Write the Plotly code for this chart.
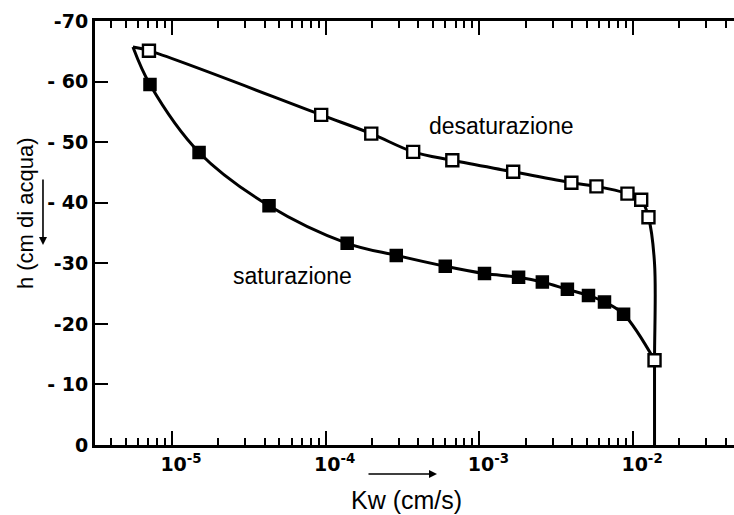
import numpy as np
import plotly.graph_objects as go

# ---- data ----
sat_k = [7.19e-6, 1.50e-5, 4.28e-5, 1.38e-4, 2.88e-4, 6.0e-4, 1.08e-3, 1.80e-3,
         2.57e-3, 3.74e-3, 5.13e-3, 6.52e-3, 8.68e-3]
sat_h = [-59.5, -48.3, -39.5, -33.3, -31.3, -29.5, -28.3, -27.7,
         -26.9, -25.7, -24.7, -23.6, -21.6]

desat_k = [7.08e-6, 9.35e-5, 1.98e-4, 3.71e-4, 6.67e-4, 1.66e-3, 3.97e-3, 5.78e-3,
           9.20e-3, 1.13e-2, 1.26e-2, 1.38e-2]
desat_h = [-65.1, -54.5, -51.4, -48.4, -47.0, -45.1, -43.3, -42.7,
           -41.5, -40.5, -37.6, -14.0]

tip_k, tip_h = 5.57e-6, -65.7          # common start of both curves
vert_k = 1.38e-2                        # vertical branch
vert_h = [-30.0, -14.0, 0.0]

y_tickvals = [0, -10, -20, -30, -40, -50, -60, -70]
y_ticktext = ["0", "- 10", "-20", "-30", "- 40", "- 50", "- 60", "-70"]
x_tickvals = [1e-5, 1e-4, 1e-3, 1e-2]
x_ticktext = ["10<sup>-5</sup>", "10<sup>-4</sup>", "10<sup>-3</sup>", "10<sup>-2</sup>"]
x_minor = [m * 10.0 ** e for e in range(-6, -1) for m in range(2, 10)]

# curve paths
sat_curve_k = [tip_k] + sat_k + [vert_k]
sat_curve_h = [tip_h] + sat_h + [desat_h[-1]]
desat_curve_k = [tip_k] + desat_k[:-1] + [vert_k] * len(vert_h)
desat_curve_h = [tip_h] + desat_h[:-1] + vert_h

fig = go.Figure()
line = dict(color="black", width=3, shape="spline", smoothing=1)
fig.add_trace(go.Scatter(x=sat_curve_k, y=sat_curve_h, mode="lines", line=line,
                         hoverinfo="skip", showlegend=False))
fig.add_trace(go.Scatter(x=desat_curve_k, y=desat_curve_h, mode="lines", line=line,
                         hoverinfo="skip", showlegend=False))
fig.add_trace(go.Scatter(x=sat_k, y=sat_h, mode="markers", name="saturazione",
                         marker=dict(symbol="square", size=12, color="black",
                                     line=dict(color="black", width=1.5)),
                         showlegend=False))
fig.add_trace(go.Scatter(x=desat_k, y=desat_h, mode="markers", name="desaturazione",
                         marker=dict(symbol="square", size=12, color="white",
                                     line=dict(color="black", width=2.4)),
                         showlegend=False))

ytickfont = dict(family="DejaVu Sans", size=19, color="black", weight="bold")
xtickfont = dict(family="DejaVu Sans", size=19, color="black", weight="bold")
fig.update_layout(
    width=734, height=515,
    margin=dict(l=95, r=0, t=21, b=70),
    paper_bgcolor="white", plot_bgcolor="white",
    xaxis=dict(type="log", range=[-5.501, -1.343],
               showline=True, linecolor="black", linewidth=3,
               mirror="allticks", showgrid=False, zeroline=False,
               ticks="inside", ticklen=14, tickwidth=2, tickcolor="black",
               tickmode="array", tickvals=x_tickvals, ticktext=x_ticktext,
               tickfont=xtickfont, ticklabelshift=9,
               minor=dict(tickmode="array", tickvals=x_minor, ticks="inside",
                          ticklen=7, tickwidth=2, tickcolor="black", showgrid=False)),
    yaxis=dict(range=[0, -70], showline=True, linecolor="black", linewidth=3,
               mirror=False, showgrid=False, zeroline=False,
               ticks="inside", ticklen=13, tickwidth=2, tickcolor="black",
               tickmode="array", tickvals=y_tickvals, ticktext=y_ticktext,
               tickfont=ytickfont),
    yaxis2=dict(range=[0, -70], overlaying="y", side="right", anchor="x",
                showline=False, showgrid=False, zeroline=False,
                ticks="inside", ticklen=5, tickwidth=2, tickcolor="black",
                tickmode="array", tickvals=y_tickvals[1:-1], showticklabels=False),
)

txt = dict(family="Liberation Sans, Arial, sans-serif", color="black")
fig.add_annotation(x=np.log10(1.40e-3), y=-52.7, xref="x", yref="y",
                   xanchor="center", yanchor="middle",
                   text="desaturazione", showarrow=False, font=dict(size=23, **txt))
fig.add_annotation(x=np.log10(6.04e-5), y=-27.9, xref="x", yref="y",
                   xanchor="center", yanchor="middle",
                   text="saturazione", showarrow=False, font=dict(size=23, **txt))
fig.add_annotation(x=-0.1095, y=0.547, xref="paper", yref="paper",
                   xanchor="center", yanchor="middle",
                   text="h (cm di acqua)", textangle=-90, showarrow=False,
                   font=dict(size=22, **txt))
fig.add_annotation(x=0.4875, y=-0.1297, xref="paper", yref="paper",
                   xanchor="center", yanchor="middle",
                   text="Kw (cm/s)", showarrow=False, font=dict(size=25, **txt))
# direction arrows
fig.add_annotation(x=-0.0814, y=0.4717, xref="paper", yref="paper", text="",
                   showarrow=True, ax=0, ay=-67, arrowhead=2, arrowsize=1,
                   arrowwidth=1.6, arrowcolor="black")
fig.add_annotation(x=0.5352, y=-0.0684, xref="paper", yref="paper", text="",
                   showarrow=True, ax=-70, ay=0, arrowhead=2, arrowsize=1,
                   arrowwidth=1.6, arrowcolor="black")

fig.write_html("out.html")
